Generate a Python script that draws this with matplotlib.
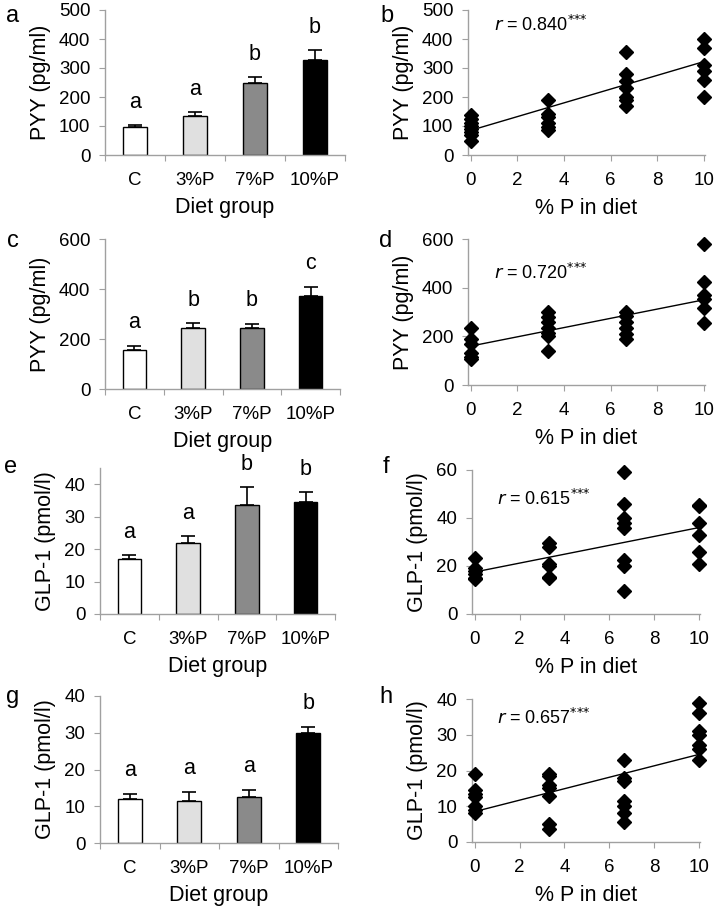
import numpy as np
import matplotlib
matplotlib.use('Agg')
import matplotlib.pyplot as plt

plt.rcParams['font.family'] = ['Liberation Sans', 'DejaVu Sans']

groups = ['C', '3%P', '7%P', '10%P']
bar_colors = ['#ffffff', '#e0e0e0', '#8a8a8a', '#000000']
pct_p = [0, 3.33, 6.67, 10]

# bar panels
pyy1_mean = [95, 135, 248, 328]
pyy1_err = [10, 13, 20, 33]
pyy1_sig = ['a', 'a', 'b', 'b']

pyy2_mean = [157, 243, 245, 372]
pyy2_err = [16, 20, 15, 36]
pyy2_sig = ['a', 'b', 'b', 'c']

glp1_mean = [17.0, 22.0, 33.5, 34.5]
glp1_err = [1.2, 2.0, 5.5, 3.0]
glp1_sig = ['a', 'a', 'b', 'b']

glp2_mean = [12.0, 11.5, 12.5, 30.0]
glp2_err = [1.4, 2.5, 2.0, 1.7]
glp2_sig = ['a', 'a', 'a', 'b']

# scatter panels: individual values per diet group
pyy1_pts = [[137, 125, 110, 100, 90, 80, 70, 48],
            [190, 143, 130, 110, 95, 85],
            [355, 278, 255, 230, 200, 190, 170],
            [400, 370, 310, 290, 260, 200]]
pyy1_line = [85, 322]

pyy2_pts = [[235, 190, 170, 130, 115, 105],
            [300, 280, 260, 235, 215, 200, 140],
            [300, 285, 260, 235, 210, 190],
            [580, 425, 370, 355, 315, 255]]
pyy2_line = [160, 350]

glp1_pts = [[23.5, 19, 18, 16.5, 15, 14.5],
            [29.5, 28, 21, 20, 15.5, 15],
            [59, 46, 40, 38, 36, 22.5, 20, 9.5],
            [45.5, 45, 38, 33, 26, 21]]
glp1_line = [17.5, 36]

glp2_pts = [[19, 14.5, 13.5, 12.5, 10, 9, 8],
            [19, 18.5, 16, 15, 13, 5, 3.5],
            [23, 18, 17, 11.5, 10, 8, 5.5],
            [39, 36, 31, 30, 27, 26, 23]]
glp2_line = [8.5, 24.5]

fig = plt.figure(figsize=(7.2, 9.09), dpi=100)

def ax_at(x0, x1, ytop, ybot):
    return fig.add_axes([x0 / 720, 1 - ybot / 909, (x1 - x0) / 720, (ybot - ytop) / 909])

def letter(x, y, s):
    fig.text(x / 720, 1 - y / 909, s, fontsize=17, ha='center', va='center')

def style(ax):
    for s in ['top', 'right']:
        ax.spines[s].set_visible(False)
    for s in ['left', 'bottom']:
        ax.spines[s].set_color('#a0a0a0')
        ax.spines[s].set_linewidth(1)
    ax.tick_params(axis='both', colors='#a0a0a0', labelcolor='black', labelsize=13.5,
                   direction='out', length=4.5)
    ax.tick_params(axis='y', pad=6)

def bar_panel(ax, means, errs, sig, ymax, yticks, ylabel):
    x = np.arange(len(groups))
    ax.bar(x, means, width=0.4, color=bar_colors, edgecolor='black', linewidth=1, zorder=2)
    ax.errorbar(x, means, yerr=[[0] * 4, errs], fmt='none', ecolor='black',
                elinewidth=1.2, capsize=5, capthick=1.2, zorder=1)
    for xi, m, e, s in zip(x, means, errs, sig):
        ax.text(xi, m + e + 0.155 * ymax, s, ha='center', va='center', fontsize=15.5)
    ax.set_xlim(-0.5, 3.5)
    ax.set_ylim(0, ymax)
    ax.set_yticks(yticks)
    ax.set_xticks(np.arange(-0.5, 4, 1))
    ax.set_xticklabels([])
    ax.set_xticks(x, minor=True)
    ax.set_xticklabels(groups, minor=True)
    style(ax)
    ax.tick_params(axis='x', which='minor', length=0, pad=12, labelsize=13.5)
    ax.set_ylabel(ylabel, fontsize=15.5, labelpad=6)
    ax.set_xlabel('Diet group', fontsize=15.5, labelpad=6)

def scatter_panel(ax, pts, line, r, ymax, yticks, ylabel, ry):
    for xv, vals in zip(pct_p, pts):
        ax.plot([xv] * len(vals), vals, linestyle='none', marker='D', color='black',
                markersize=6.8, zorder=3, clip_on=False)
    ax.plot([0, 10], line, color='black', linewidth=1, zorder=2)
    ax.set_xlim(-0.12, 10.05)
    ax.set_ylim(0, ymax)
    ax.set_yticks(yticks)
    ax.set_xticks([0, 2, 4, 6, 8, 10])
    style(ax)
    ax.tick_params(axis='x', pad=8)
    ax.set_ylabel(ylabel, fontsize=15.5, labelpad=6)
    ax.set_xlabel('% P in diet', fontsize=15.5, labelpad=6)
    ax.text(0.11, ry, r'$\it{r}$' + ' = ' + r + r'$^{{*}{*}{*}}$', transform=ax.transAxes,
            fontsize=13, va='center')

ax = ax_at(105, 345, 10, 155)
bar_panel(ax, pyy1_mean, pyy1_err, pyy1_sig, 500, range(0, 501, 100), 'PYY (pg/ml)')
ax = ax_at(468, 705, 10, 155)
scatter_panel(ax, pyy1_pts, pyy1_line, '0.840', 500, range(0, 501, 100), 'PYY (pg/ml)', 0.9)

ax = ax_at(105, 340, 239, 389)
bar_panel(ax, pyy2_mean, pyy2_err, pyy2_sig, 600, range(0, 601, 200), 'PYY (pg/ml)')
ax = ax_at(468, 705, 239, 385)
scatter_panel(ax, pyy2_pts, pyy2_line, '0.720', 600, range(0, 601, 200), 'PYY (pg/ml)', 0.77)

ax = ax_at(100, 335, 468, 614)
bar_panel(ax, glp1_mean, glp1_err, glp1_sig, 45, range(0, 41, 10), 'GLP-1 (pmol/l)')
ax = ax_at(472, 700, 470, 614)
scatter_panel(ax, glp1_pts, glp1_line, '0.615', 60, range(0, 61, 20), 'GLP-1 (pmol/l)', 0.8)

ax = ax_at(100, 338, 696, 843)
bar_panel(ax, glp2_mean, glp2_err, glp2_sig, 40, range(0, 41, 10), 'GLP-1 (pmol/l)')
ax = ax_at(472, 700, 699, 842)
scatter_panel(ax, glp2_pts, glp2_line, '0.657', 40, range(0, 41, 10), 'GLP-1 (pmol/l)', 0.87)

letter(13, 16, 'a')
letter(387, 16, 'b')
letter(13, 241, 'c')
letter(386, 241, 'd')
letter(11, 467, 'e')
letter(386, 467, 'f')
letter(13, 697, 'g')
letter(386, 697, 'h')

fig.savefig('out.png', dpi=100)
